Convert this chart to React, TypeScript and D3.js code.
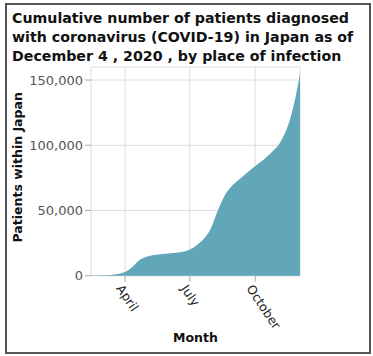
import { useEffect, useRef } from 'react';
import * as d3 from 'd3';

const titleLines = [
  'Cumulative number of patients diagnosed',
  'with coronavirus (COVID-19) in Japan as of',
  'December 4 , 2020 , by place of infection',
];

const dates = [
  '2020-02-13', '2020-03-01', '2020-03-15', '2020-04-01', '2020-04-10',
  '2020-04-20', '2020-05-01', '2020-05-15', '2020-06-01', '2020-06-15',
  '2020-07-01', '2020-07-12', '2020-07-22', '2020-08-01', '2020-08-08',
  '2020-08-15', '2020-08-20', '2020-08-27', '2020-09-08', '2020-09-22',
  '2020-10-07', '2020-10-21', '2020-11-07', '2020-11-19', '2020-11-26',
  '2020-12-03',
];

const patients = [
  100, 250, 800, 2800, 6000,
  11500, 14500, 16000, 17000, 17800,
  20000, 24000, 29000, 38000, 48000,
  57000, 62500, 67500, 73500, 80000,
  86500, 93000, 104000, 120000, 135000,
  155000,
];

const yTicks = [0, 50000, 100000, 150000];
const monthTicks = ['2020-04-01', '2020-07-01', '2020-10-01'];

export default function App() {
  const svgRef = useRef<SVGSVGElement>(null);

  useEffect(() => {
    if (!svgRef.current) return;
    const svg = d3.select(svgRef.current);
    svg.selectAll('*').remove();

    const parse = d3.timeParse('%Y-%m-%d');
    const data = dates.map((d, i) => ({ date: parse(d) as Date, value: patients[i] }));

    const left = 91, right = 300, top = 67, bottom = 275.7;

    const x = d3.scaleTime()
      .domain(d3.extent(data, d => d.date) as [Date, Date])
      .range([left, right]);
    const y = d3.scaleLinear().domain([0, 160000]).range([bottom, top]);

    // outer frame
    svg.append('rect')
      .attr('x', 6).attr('y', 4).attr('width', 364).attr('height', 349)
      .attr('fill', 'white').attr('stroke', '#555').attr('stroke-width', 2);

    // title
    svg.append('g').selectAll('text').data(titleLines).join('text')
      .attr('x', 12)
      .attr('y', (_, i) => 23 + i * 19)
      .attr('font-family', 'DejaVu Sans')
      .attr('font-weight', 'bold')
      .attr('font-size', 14.2)
      .attr('fill', '#111')
      .text(d => d);

    // grid
    const grid = svg.append('g').attr('stroke', '#ddd').attr('stroke-width', 1);
    grid.selectAll('line.h').data(yTicks).join('line')
      .attr('class', 'h')
      .attr('x1', left).attr('x2', right)
      .attr('y1', d => y(d)).attr('y2', d => y(d));
    grid.selectAll('line.v').data(monthTicks).join('line')
      .attr('class', 'v')
      .attr('x1', d => x(parse(d) as Date)).attr('x2', d => x(parse(d) as Date))
      .attr('y1', top).attr('y2', bottom);
    grid.append('rect')
      .attr('x', left).attr('y', top)
      .attr('width', right - left).attr('height', bottom - top)
      .attr('fill', 'none');

    // area
    const area = d3.area<{ date: Date; value: number }>()
      .x(d => x(d.date))
      .y0(y(0))
      .y1(d => y(d.value))
      .curve(d3.curveMonotoneX);

    svg.append('path')
      .datum(data)
      .attr('d', area)
      .attr('fill', '#62a6ba');

    // y axis
    const yAxis = svg.append('g');
    yAxis.selectAll('line').data(yTicks).join('line')
      .attr('x1', left - 6).attr('x2', left)
      .attr('y1', d => y(d)).attr('y2', d => y(d))
      .attr('stroke', '#aaa');
    yAxis.selectAll('text').data(yTicks).join('text')
      .attr('x', left - 8)
      .attr('y', d => y(d))
      .attr('dy', '0.35em')
      .attr('text-anchor', 'end')
      .attr('font-family', 'DejaVu Sans')
      .attr('font-size', 13)
      .attr('fill', '#555')
      .text(d => d3.format(',')(d));

    svg.append('text')
      .attr('transform', `translate(22, ${(top + bottom) / 2 - 4}) rotate(-90)`)
      .attr('text-anchor', 'middle')
      .attr('font-family', 'DejaVu Sans')
      .attr('font-weight', 'bold')
      .attr('font-size', 12.5)
      .attr('fill', '#111')
      .text('Patients within Japan');

    // x axis
    const fmt = d3.timeFormat('%B');
    const xAxis = svg.append('g');
    xAxis.selectAll('line').data(monthTicks).join('line')
      .attr('x1', d => x(parse(d) as Date)).attr('x2', d => x(parse(d) as Date))
      .attr('y1', bottom).attr('y2', bottom + 6)
      .attr('stroke', '#aaa');
    xAxis.selectAll('text').data(monthTicks).join('text')
      .attr('transform', d => `translate(${x(parse(d) as Date) - 2}, ${bottom + 8}) rotate(56)`)
      .attr('dy', '0.7em')
      .attr('font-family', 'DejaVu Sans')
      .attr('font-size', 12.5)
      .attr('fill', '#222')
      .text(d => fmt(parse(d) as Date));

    svg.append('text')
      .attr('x', (left + right) / 2)
      .attr('y', 342)
      .attr('text-anchor', 'middle')
      .attr('font-family', 'DejaVu Sans')
      .attr('font-weight', 'bold')
      .attr('font-size', 12.5)
      .attr('fill', '#111')
      .text('Month');
  }, []);

  return (
    <svg
      ref={svgRef}
      width={373}
      height={356}
      style={{ position: 'absolute', left: 0, top: 0, background: 'white' }}
    />
  );
}
